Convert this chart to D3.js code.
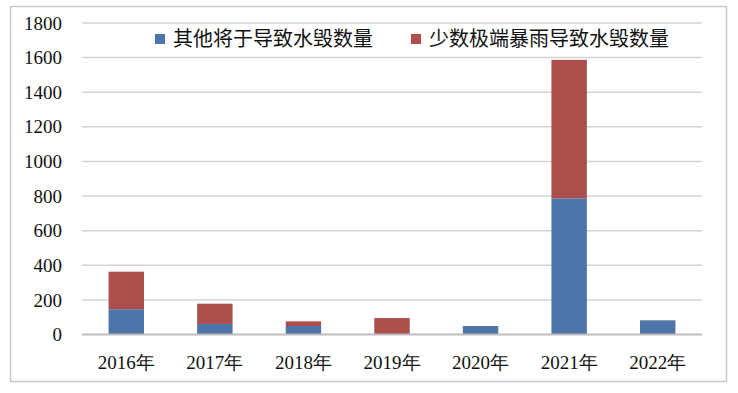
<!DOCTYPE html>
<html>
<head>
<meta charset="utf-8">
<script src="https://cdn.jsdelivr.net/npm/d3@7"></script>
<style>
  body { margin: 0; background: #fff; }
</style>
</head>
<body>
<div id="chart"></div>
<script>
var years = ["2016年", "2017年", "2018年", "2019年", "2020年", "2021年", "2022年"];
var otherCauses = [146, 61, 49, 0, 49, 787, 82];
var extremeRain = [217, 117, 27, 95, 0, 800, 0];
var seriesNames = ["其他将于导致水毁数量", "少数极端暴雨导致水毁数量"];
var yTicks = [0, 200, 400, 600, 800, 1000, 1200, 1400, 1600, 1800];

var width = 738,
    height = 393;

var colors = ["#4d75a9", "#ab4e4c"];
var serifFont = "'Liberation Serif', 'DejaVu Serif', serif";

var svg = d3.select("#chart")
    .append("svg")
    .attr("width", width)
    .attr("height", height);

// outer frame
svg.append("rect")
    .attr("x", 10.5).attr("y", 6.5)
    .attr("width", 716).attr("height", 375)
    .attr("fill", "none")
    .attr("stroke", "#c8c8c8")
    .attr("stroke-width", 1.5);

var x = d3.scaleBand()
    .domain(years)
    .range([82, 702])
    .paddingInner(0.6)
    .paddingOuter(0.3);

var y = d3.scaleLinear()
    .domain([0, 1800])
    .range([334.5, 23]);

// gridlines
svg.append("g")
    .selectAll("line")
    .data(yTicks.slice(1))
    .enter().append("line")
    .attr("x1", 82).attr("x2", 702)
    .attr("y1", function (d) { return y(d); })
    .attr("y2", function (d) { return y(d); })
    .attr("stroke", "#d4d4d4")
    .attr("stroke-width", 1.5);

// y labels
svg.append("g")
    .selectAll("text")
    .data(yTicks)
    .enter().append("text")
    .style("font-family", serifFont)
    .style("font-size", "19px")
    .attr("x", 62)
    .attr("y", function (d) { return y(d); })
    .attr("dy", "0.35em")
    .attr("text-anchor", "end")
    .attr("fill", "#111")
    .text(function (d) { return d; });

// stacked data
var rows = years.map(function (yr, i) {
    return { year: yr, a: otherCauses[i], b: extremeRain[i] };
});
var stack = d3.stack().keys(["a", "b"]);
var layers = stack(rows);

svg.append("g")
    .selectAll("g")
    .data(layers)
    .enter().append("g")
    .attr("fill", function (d, i) { return colors[i]; })
    .selectAll("rect")
    .data(function (d) { return d; })
    .enter().append("rect")
    .attr("x", function (d) { return x(d.data.year); })
    .attr("y", function (d) { return y(d[1]); })
    .attr("width", x.bandwidth())
    .attr("height", function (d) { return y(d[0]) - y(d[1]); });

// zero axis
svg.append("line")
    .attr("x1", 82).attr("x2", 702)
    .attr("y1", y(0)).attr("y2", y(0))
    .attr("stroke", "#bdbdbd")
    .attr("stroke-width", 2);

// x labels
svg.append("g")
    .selectAll("text")
    .data(years)
    .enter().append("text")
    .style("font-family", serifFont)
    .style("font-size", "19px")
    .attr("x", function (d) { return x(d) + x.bandwidth() / 2; })
    .attr("y", 362)
    .attr("dy", "0.35em")
    .attr("text-anchor", "middle")
    .attr("fill", "#111")
    .text(function (d) { return d; });

// legend
var legendX = [155, 411];
var legend = svg.append("g")
    .selectAll("g")
    .data(seriesNames)
    .enter().append("g")
    .attr("transform", function (d, i) { return "translate(" + legendX[i] + ",39)"; });

legend.append("rect")
    .attr("x", 0).attr("y", -5)
    .attr("width", 10).attr("height", 10)
    .attr("fill", function (d, i) { return colors[i]; });

legend.append("text")
    .style("font-family", "'Noto Sans CJK SC', sans-serif")
    .style("font-size", "20px")
    .attr("x", 18)
    .attr("y", 0)
    .attr("dy", "0.36em")
    .attr("fill", "#111")
    .text(function (d) { return d; });
</script>
</body>
</html>
